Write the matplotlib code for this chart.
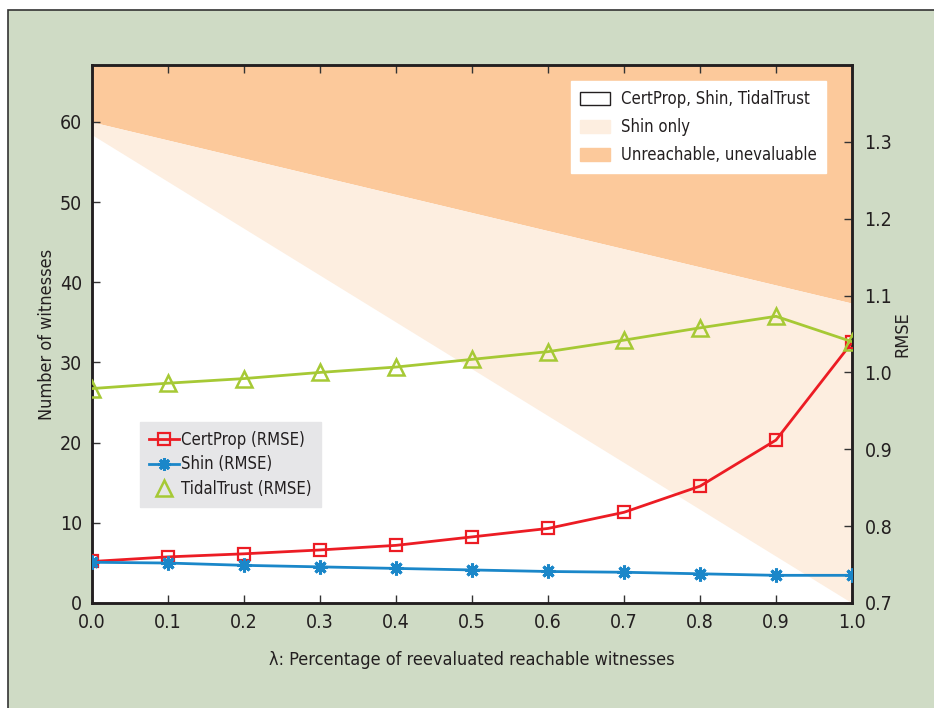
import numpy as np
import matplotlib
matplotlib.use("Agg")
import matplotlib.pyplot as plt
from matplotlib.patches import Rectangle, Patch
from matplotlib.lines import Line2D

plt.rcParams['font.family'] = ['DejaVu Sans']
plt.rcParams['font.stretch'] = 'condensed'

# reevaluation ratio
lam = [0.0, 0.1, 0.2, 0.3, 0.4, 0.5, 0.6, 0.7, 0.8, 0.9, 1.0]

# RMSE for each method
certprop_rmse = [0.754, 0.760, 0.764, 0.769, 0.775, 0.786, 0.797, 0.818, 0.852, 0.912, 1.039]
shin_rmse = [0.753, 0.752, 0.749, 0.747, 0.745, 0.743, 0.741, 0.740, 0.738, 0.736, 0.736]
tidal_rmse = [0.979, 0.986, 0.992, 1.000, 1.007, 1.017, 1.027, 1.042, 1.058, 1.073, 1.040]

# witness counts (region boundaries) at lambda = 0 and 1
lam_ends = [0.0, 1.0]
reachable_all = [60.0, 37.4]     # above this: unreachable
evaluable_all = [58.4, 0.0]      # below this: usable by every method

c_orange = '#fcc99b'
c_peach = '#fdeee0'
c_green_bg = '#cfdbc5'
c_red = '#ec1c24'
c_blue = '#1b87c9'
c_lime = '#a6c935'
c_text = '#231f20'

fig = plt.figure(figsize=(9.34, 7.08), dpi=100)
fig.patch.set_facecolor('white')
fig.patches.append(Rectangle((8 / 934, -0.01), 1.0, 1.01 - 10 / 708, transform=fig.transFigure,
                             facecolor=c_green_bg, edgecolor='#333333', linewidth=1.2, zorder=-10))

ax = fig.add_axes([92 / 934, 105 / 708, 760 / 934, 538 / 708])
ax.set_facecolor('white')
ymax = 67.1
ax.fill_between(lam_ends, reachable_all, [ymax, ymax], color=c_orange, linewidth=0)
ax.fill_between(lam_ends, evaluable_all, reachable_all, color=c_peach, linewidth=0)
ax.set_xlim(0, 1)
ax.set_ylim(0, ymax)
ax.set_xticks(lam)
ax.set_xticklabels([f'{v:.1f}' for v in lam])
ax.set_yticks(range(0, 61, 10))
ax.tick_params(direction='in', top=True, right=False, labelsize=14, length=6, width=1,
               color='#333333', labelcolor=c_text, pad=7)
for s in ax.spines.values():
    s.set_linewidth(1.8)
    s.set_color(c_text)
ax.set_xlabel('λ: Percentage of reevaluated reachable witnesses', fontsize=13, color=c_text, labelpad=14)
ax.set_ylabel('Number of witnesses', fontsize=13, color=c_text, labelpad=3)

ax2 = ax.twinx()
ax2.set_ylim(0.7, 1.4)
ax2.set_yticks([0.7, 0.8, 0.9, 1.0, 1.1, 1.2, 1.3])
ax2.set_yticklabels(['0.7', '0.8', '0.9', '1.0', '1.1', '1.2', '1.3'])
ax2.tick_params(direction='in', labelsize=14, length=6, width=1, color='#333333',
                labelcolor=c_text, pad=9)
for s in ax2.spines.values():
    s.set_linewidth(1.8)
    s.set_color(c_text)
ax2.set_ylabel('RMSE', fontsize=13, color=c_text, labelpad=1)

ax2.plot(lam, certprop_rmse, color=c_red, lw=2, marker='s', ms=9, mfc='none', mew=1.6,
         label='CertProp (RMSE)', zorder=3)
ax2.plot(lam, shin_rmse, color=c_blue, lw=2, marker=(8, 2, 0), ms=10, mew=2.2,
         label='Shin (RMSE)', zorder=3)
ax2.plot(lam, tidal_rmse, color=c_lime, lw=2, marker='^', ms=12, mfc='none', mew=1.8,
         label='TidalTrust (RMSE)', zorder=4)

# region legend (top right)
area_handles = [Patch(facecolor='white', edgecolor=c_text, label='CertProp, Shin, TidalTrust'),
                Patch(facecolor=c_peach, edgecolor=c_peach, label='Shin only'),
                Patch(facecolor=c_orange, edgecolor=c_orange, label='Unreachable, unevaluable')]
leg1 = ax2.legend(handles=area_handles, loc='upper right', bbox_to_anchor=(0.966, 0.970),
                  borderaxespad=0, fontsize=12, frameon=True, fancybox=False, framealpha=1,
                  edgecolor='white', facecolor='white', handlelength=1.8, handleheight=0.9,
                  handletextpad=0.65, borderpad=0.55, labelspacing=0.6, labelcolor=c_text)
ax2.add_artist(leg1)

# method legend (lower left)
line_handles = [Line2D([], [], color=c_red, lw=2, marker='s', ms=8, mfc='none', mew=1.6),
                Line2D([], [], color=c_blue, lw=2, marker=(8, 2, 0), ms=9, mew=2.2),
                Line2D([], [], color=c_lime, lw=0, marker='^', ms=11, mfc='none', mew=1.8)]
ax2.legend(line_handles, ['CertProp (RMSE)', 'Shin (RMSE)', 'TidalTrust (RMSE)'],
           loc='lower left', bbox_to_anchor=(0.063, 0.178), borderaxespad=0, fontsize=12,
           frameon=True, fancybox=False, framealpha=1, facecolor='#e6e6e8', edgecolor='#e6e6e8',
           handlelength=1.8, handletextpad=0.1, borderpad=0.55, labelspacing=0.4,
           labelcolor=c_text)

fig.savefig('out.png', dpi=100, facecolor=fig.get_facecolor())
